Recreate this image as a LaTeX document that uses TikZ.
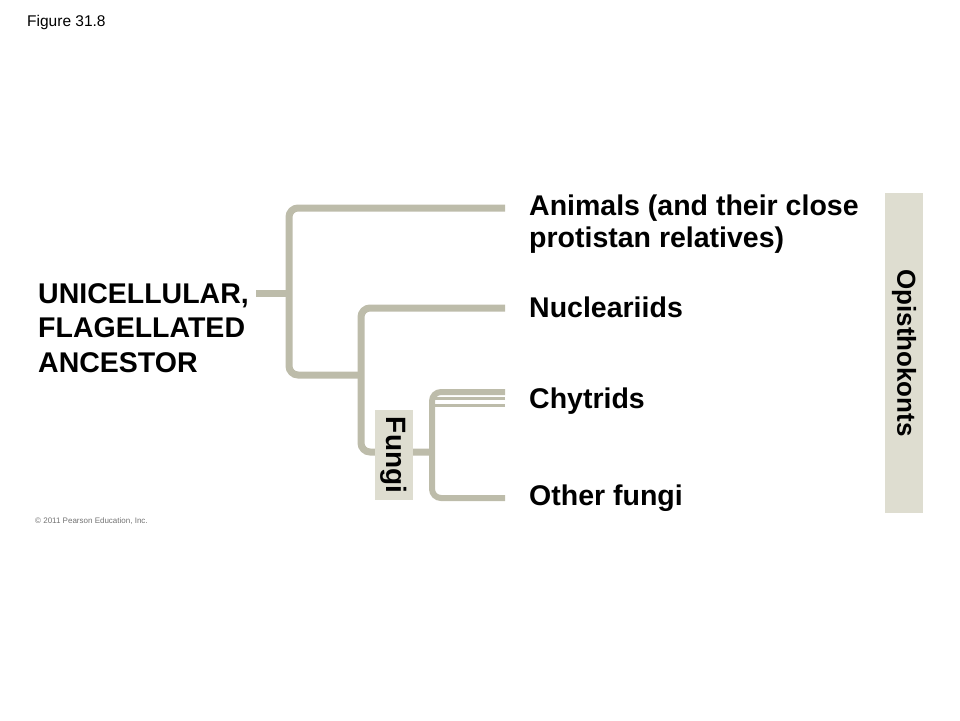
\documentclass[tikz,border=0pt]{standalone}
\usepackage{fontspec}
\setmainfont{Liberation Sans}
\definecolor{branchgray}{HTML}{BDBCAA}
\definecolor{cladefill}{HTML}{DEDDD0}

\begin{document}
\begin{tikzpicture}[x=1pt, y=-1pt,
    branch/.style ={draw=branchgray, line width=7pt, rounded corners=9pt},
    twig/.style ={draw=branchgray, line width=3pt},
    taxon/.style ={anchor=base west, inner sep=0pt, align=left,
                   font=\fontsize{28.5}{32}\selectfont\bfseries},
    clade/.style ={fill=cladefill, rotate=-90, inner sep=0pt,
                   font=\fontsize{28}{32}\selectfont\bfseries}]
   \useasboundingbox (0,0) rectangle (960,720);

   % labels (base anchor = last line)
   \node[inner sep=0pt, anchor=base west, font=\fontsize{15.5}{18}\selectfont] (fig) at (27,27) {Figure 31.8};
   \node[inner sep=0pt, anchor=base west, text=black!55, font=\fontsize{8}{10}\selectfont] (copy) at (35,523) {\textcopyright\ 2011 Pearson Education, Inc.};
   \node[taxon, font=\fontsize{28.5}{34.5}\selectfont\bfseries] (ancestor) at (38,372) {UNICELLULAR,\\FLAGELLATED\\ANCESTOR};
   \node[taxon] (animals) at (529,247) {Animals (and their close\\protistan relatives)};
   \node[taxon] (nuclear) at (529,317) {Nucleariids};
   \node[taxon] (chytrids) at (529,408) {Chytrids};
   \node[taxon] (other) at (529,505) {Other fungi};

   % branch points and tips
   \coordinate (root) at (256,293);
   \coordinate (n1) at (289,293);
   \coordinate (n2) at (361,375);
   \coordinate (n3) at (432,452);
   \coordinate (tA) at (505,208);
   \coordinate (tN) at (505,308);
   \coordinate (tC) at (505,392);
   \coordinate (tC2) at (505,398.5);
   \coordinate (tC3) at (505,405);
   \coordinate (tO) at (505,498);

   \draw[branch] (root) -- (n1);
   \draw[branch] (tA) -| (n1) |- (n2);
   \draw[branch] (tN) -| (n2) |- (n3);
   \draw[branch, line width=6pt] (tC) -| (n3) |- (tO);
   \draw[twig] (tC2) -- (tC2 -| n3);
   \draw[twig] (tC3) -- (tC3 -| n3);

   % clades
   \node[clade, minimum width=90pt, minimum height=38pt] (fungi) at (394,455) {Fungi};
   \node[clade, minimum width=320pt, minimum height=38pt,
         font=\fontsize{26}{30}\selectfont\bfseries] (opis) at (904,353) {Opisthokonts};
\end{tikzpicture}
\end{document}
